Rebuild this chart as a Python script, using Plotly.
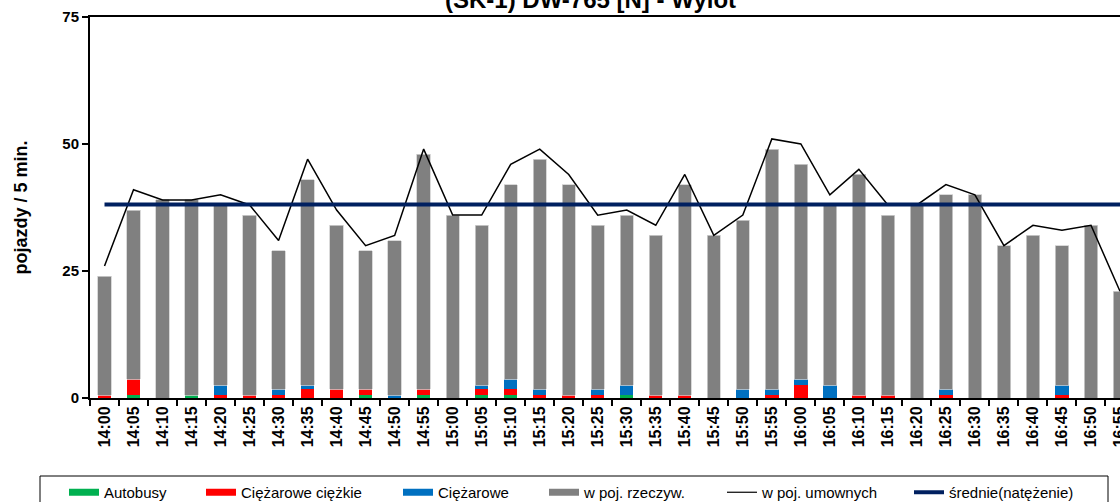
import plotly.graph_objects as go

czas = ["14:00", "14:05", "14:10", "14:15", "14:20", "14:25", "14:30", "14:35", "14:40", "14:45",
        "14:50", "14:55", "15:00", "15:05", "15:10", "15:15", "15:20", "15:25", "15:30", "15:35",
        "15:40", "15:45", "15:50", "15:55", "16:00", "16:05", "16:10", "16:15", "16:20", "16:25",
        "16:30", "16:35", "16:40", "16:45", "16:50", "16:55"]

autobusy = [0, 0.5, 0, 0.5, 0, 0, 0, 0, 0, 0.5,
            0, 0.5, 0, 0.5, 0.5, 0, 0, 0, 0.5, 0,
            0, 0, 0, 0, 0, 0, 0, 0, 0, 0,
            0, 0, 0, 0, 0, 0]
ciezarowe_ciezkie = [0.5, 3.2, 0, 0, 0.5, 0.5, 0.5, 1.7, 1.7, 1.2,
                     0, 1.2, 0, 1.2, 1.2, 0.5, 0.5, 0.5, 0, 0.5,
                     0.5, 0, 0, 0.5, 2.5, 0, 0.5, 0.5, 0, 0.5,
                     0, 0, 0, 0.5, 0, 0]
ciezarowe = [0, 0, 0, 0, 2.0, 0, 1.2, 0.8, 0, 0,
             0.5, 0, 0, 0.8, 2.0, 1.2, 0, 1.2, 2.0, 0,
             0, 0, 1.7, 1.2, 1.2, 2.5, 0, 0, 0, 1.2,
             0, 0, 0, 2.0, 0, 0]
w_poj_rzeczyw = [23.5, 33.3, 39.0, 38.5, 35.5, 35.5, 27.3, 40.5, 32.3, 27.3,
                 30.5, 46.3, 36.0, 31.5, 38.3, 45.3, 41.5, 32.3, 33.5, 31.5,
                 41.5, 32.0, 33.3, 47.3, 42.3, 35.5, 43.5, 35.5, 38.0, 38.3,
                 40.0, 30.0, 32.0, 27.5, 34.0, 21.0]
w_poj_umownych = [26, 41, 39, 39, 40, 38, 31, 47, 37, 30,
                  32, 49, 36, 36, 46, 49, 44, 36, 37, 34,
                  44, 32, 36, 51, 50, 40, 45, 38, 38, 42,
                  40, 30, 34, 33, 34, 21]
srednie = 38.1

y_ticks = [0, 25, 50, 75]

FONT = "Liberation Sans, Arial, sans-serif"
C_GREEN = "#00B050"
C_RED = "#FF0000"
C_BLUE = "#0070C0"
C_GRAY = "#808080"
C_NAVY = "#002060"

# plot-area geometry (pixels)
L, R, T, B = 90, 0, 17, 104
W, H = 1120, 502
PW = W - L - R
PH = H - T - B


def px_x(p):
    return (p - L) / PW


def px_y(p):
    return (H - B - p) / PH


fig = go.Figure()

bar_specs = [
    ("Autobusy", autobusy, C_GREEN),
    ("Ciężarowe ciężkie", ciezarowe_ciezkie, C_RED),
    ("Ciężarowe", ciezarowe, C_BLUE),
    ("w poj. rzeczyw.", w_poj_rzeczyw, C_GRAY),
]
for name, vals, col in bar_specs:
    fig.add_trace(go.Bar(
        x=czas, y=vals, name=name,
        marker=dict(color=col, line=dict(width=0.8, color="#D0D0D0") if col == C_GRAY else dict(width=0)),
        showlegend=False,
    ))

fig.add_trace(go.Scatter(
    x=czas, y=w_poj_umownych, mode="lines", name="w poj. umownych",
    line=dict(color="black", width=1.5), showlegend=False,
))
fig.add_trace(go.Scatter(
    x=[czas[0], czas[-1]], y=[srednie, srednie], mode="lines", name="średnie(natężenie)",
    line=dict(color=C_NAVY, width=4), showlegend=False,
))

# legend entries (wide swatches), each in its own legend so spacing matches the original
legend_specs = [
    ("Autobusy", C_GREEN, 7, 64),
    ("Ciężarowe ciężkie", C_RED, 7, 201),
    ("Ciężarowe", C_BLUE, 7, 398),
    ("w poj. rzeczyw.", C_GRAY, 7, 544),
    ("w poj. umownych", "black", 1.2, 722),
    ("średnie(natężenie)", C_NAVY, 4, 909),
]
legend_layout = {}
for i, (name, col, w, lx) in enumerate(legend_specs):
    key = "legend" if i == 0 else f"legend{i + 1}"
    fig.add_trace(go.Scatter(
        x=[None], y=[None], mode="lines", name=name,
        line=dict(color=col, width=w), showlegend=True, legend=key,
    ))
    legend_layout[key] = dict(
        orientation="h", x=px_x(lx), y=px_y(476), xanchor="left", yanchor="top",
        borderwidth=0, bgcolor="rgba(0,0,0,0)", font=dict(size=15, family=FONT, color="black"),
        itemwidth=30,
    )

fig.update_layout(
    width=W, height=H,
    barmode="stack", bargap=0.54,
    paper_bgcolor="white", plot_bgcolor="white",
    margin=dict(l=L, r=R, t=T, b=B, autoexpand=False),
    font=dict(family=FONT, color="black"),
    showlegend=True,
    annotations=[dict(
        text="<b>(SK-1) DW-765 [N] - Wylot</b>", xref="paper", yref="paper",
        x=px_x(590), y=px_y(15), xanchor="center", yanchor="bottom", showarrow=False,
        font=dict(size=24, family=FONT, color="black"),
    )],
    shapes=[dict(
        type="rect", xref="paper", yref="paper",
        x0=px_x(40), x1=px_x(1108), y0=px_y(476), y1=px_y(520),
        line=dict(color="black", width=1), fillcolor="rgba(0,0,0,0)",
    )],
    **legend_layout,
)

fig.update_xaxes(
    type="category", range=[-0.5, 35.0],
    tickangle=-90, tickfont=dict(size=16, family=FONT, color="black"),
    tickprefix="<b>", ticksuffix="</b>",
    ticks="outside", ticklen=6, tickwidth=1.5, tickcolor="black", tickson="boundaries",
    showline=True, linecolor="black", linewidth=2, mirror=True,
    showgrid=False, zeroline=False,
)
fig.update_yaxes(
    range=[0, 75], tickvals=y_ticks, ticktext=[f"<b>{v}</b>" for v in y_ticks],
    tickfont=dict(size=15, family=FONT, color="black"),
    ticks="outside", ticklen=6, tickwidth=1.5, tickcolor="black",
    showline=True, linecolor="black", linewidth=2, mirror=False,
    showgrid=False, zeroline=False,
    title=dict(text="<b>pojazdy / 5 min.</b>", font=dict(size=18, family=FONT), standoff=30),
)

fig.write_html("out.html", config={"displayModeBar": False},
               post_script="document.body.style.margin='0';")
